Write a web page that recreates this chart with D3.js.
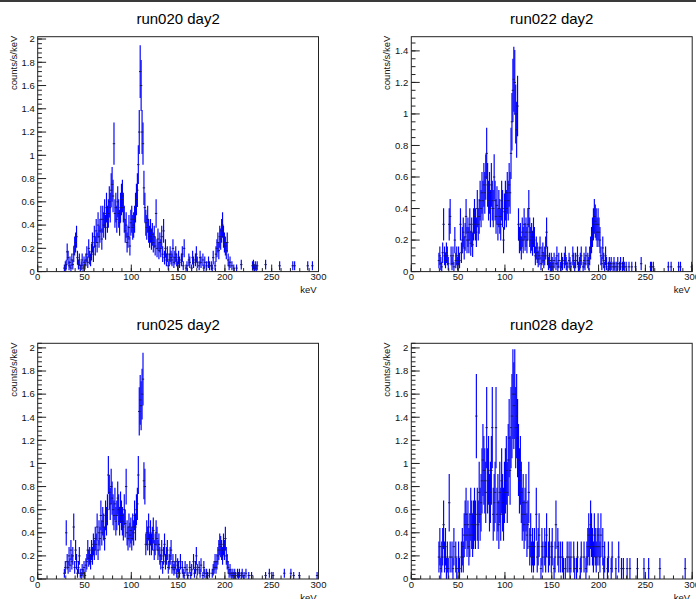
<!DOCTYPE html>
<html><head><meta charset="utf-8">
<script src="https://cdn.jsdelivr.net/npm/d3@7/dist/d3.min.js"></script>
<style>html,body{margin:0;padding:0;background:#fff;}svg{display:block;font-family:"Liberation Sans",Arial,Helvetica,sans-serif;}</style>
</head><body><svg id="c" width="696" height="599"></svg>
<script>
// ---------------- data ----------------
const titles = ["run020 day2", "run022 day2", "run025 day2", "run028 day2"];
const xTickValues = [0, 50, 100, 150, 200, 250, 300];
const binStart = 20;   // keV, lower edge of the first stored bin
const binWidth = 1;    // keV
// counts/s/keV per bin (0 = empty bin, not drawn); rows of 10 bins
const run020 = [
0,0,0,0,0,0,0,0,0.03,0.05,
0.06,0.17,0.12,0.05,0.08,0.03,0.1,0.06,0.15,0.22,
0.25,0.3,0.12,0.06,0.1,0.03,0.05,0.1,0.03,0.08,
0.06,0.1,0.15,0.08,0.2,0.12,0.1,0.17,0.25,0.15,
0.3,0.22,0.35,0.25,0.4,0.3,0.35,0.45,0.28,0.45,
0.4,0.5,0.38,0.55,0.45,0.5,0.6,0.55,0.7,0.75,
0.65,1.1,0.5,0.55,0.45,0.6,0.5,0.42,0.55,0.62,
0.65,0.55,0.45,0.35,0.4,0.25,0.3,0.38,0.22,0.42,
0.45,0.38,0.4,0.45,0.55,0.62,0.7,0.92,1.2,1.72,
1.6,1.2,1.1,0.72,0.55,0.42,0.38,0.45,0.35,0.3,
0.35,0.28,0.32,0.25,0.3,0.22,0.5,0.2,0.28,0.18,
0.25,0.2,0.3,0.15,0.35,0.12,0.2,0.1,0.15,0.05,
0.1,0.15,0.12,0.1,0.2,0.08,0.12,0.15,0.1,0.05,
0.12,0.08,0,0.1,0.15,0.05,0.2,0,0.03,0.05,
0,0.1,0.08,0,0.03,0.12,0.08,0,0.1,0.15,
0.08,0,0.05,0.12,0.08,0,0.1,0.03,0.08,0,
0.05,0,0.08,0.05,0,0.05,0.03,0.12,0,0.05,
0.15,0.2,0.25,0.18,0.3,0.28,0.35,0.4,0.3,0.25,
0.22,0.18,0.25,0.1,0.05,0.08,0,0.05,0,0.03,
0,0,0.03,0,0,0,0,0.06,0,0,
0,0,0,0,0,0,0,0,0,0.05,
0.06,0.03,0.05,0.03,0.05,0,0,0,0,0,
0,0,0,0.06,0,0,0,0,0,0,
0,0,0,0,0,0,0,0,0.05,0,
0,0,0,0,0,0,0,0,0,0,
0,0,0.05,0,0.05,0,0,0,0,0,
0,0,0,0,0,0,0,0,0.05,0,
0,0,0,0.05,0,0,0,0,0,0];
const run022 = [
0,0,0,0,0,0,0,0,0,0.07,
0.1,0.05,0.03,0.12,0.3,0.1,0.07,0.12,0.1,0.05,
0.3,0.35,0.1,0.05,0.1,0.03,0.2,0.07,0.1,0.05,
0.1,0.07,0.3,0.12,0.2,0.25,0.15,0.22,0.35,0.2,
0.25,0.2,0.3,0.18,0.25,0.17,0.3,0.35,0.3,0.25,
0.4,0.3,0.35,0.45,0.4,0.5,0.45,0.55,0.5,0.6,
0.75,0.55,0.45,0.5,0.4,0.55,0.45,0.4,0.6,0.45,
0.35,0.42,0.3,0.4,0.35,0.3,0.45,0.4,0.2,0.38,
0.45,0.4,0.5,0.45,0.55,0.5,0.75,0.95,1.15,1.22,
1.2,1.0,0.9,1.05,0.3,0.2,0.22,0.15,0.25,0.2,
0.3,0.22,0.25,0.2,0.3,0.4,0.25,0.2,0.22,0.18,
0.25,0.2,0.1,0.15,0.12,0.08,0.1,0.15,0.05,0.1,
0.12,0.07,0.1,0.15,0.25,0.1,0.05,0.07,0.03,0.07,
0.05,0.03,0.07,0,0.05,0.1,0.03,0.07,0,0.03,
0.07,0.05,0,0.07,0.1,0.05,0.03,0,0.07,0.05,
0.03,0,0.1,0.07,0.03,0.07,0,0.1,0.03,0.05,
0.07,0.1,0,0.03,0.07,0.05,0.1,0,0.07,0.05,
0.1,0.15,0.2,0.25,0.3,0.35,0.32,0.3,0.25,0.3,
0.25,0.2,0.1,0.05,0.15,0.07,0.03,0.1,0.05,0,
0.03,0.05,0.03,0.05,0,0.03,0.05,0.03,0,0.03,
0.05,0,0.03,0.05,0,0.03,0.05,0.03,0,0.03,
0,0,0.03,0,0,0.03,0,0,0,0.03,
0,0,0,0,0,0.05,0,0,0,0,
0,0,0,0,0,0.03,0.03,0,0.03,0,
0,0,0,0,0,0,0,0,0,0,
0,0,0,0,0.03,0,0,0.03,0,0,
0,0,0,0,0,0.03,0,0.03,0,0,
0,0,0,0,0,0,0,0,0,0.03];
const run025 = [
0,0,0,0,0,0,0,0,0.05,0.1,
0.4,0.15,0.1,0.2,0.12,0.25,0.15,0.2,0.45,0.1,
0.25,0.15,0.05,0.1,0.2,0.05,0.03,0.08,0.05,0.1,
0.03,0.12,0.15,0.25,0.18,0.2,0.15,0.25,0.2,0.3,
0.25,0.35,0.3,0.45,0.25,0.4,0.35,0.55,0.4,0.5,
0.45,0.35,0.55,0.5,0.6,0.9,0.75,0.65,0.8,0.7,
0.6,0.55,0.65,0.5,0.55,0.7,0.6,0.5,0.62,0.55,
0.5,0.45,0.6,0.48,0.8,0.4,0.35,0.45,0.38,0.42,
0.35,0.45,0.4,0.55,0.45,0.6,0.65,0.9,1.45,1.55,
1.5,1.6,1.73,0.85,0.8,0.3,0.4,0.35,0.45,0.3,
0.4,0.3,0.35,0.42,0.25,0.3,0.4,0.35,0.25,0.3,
0.2,0.15,0.25,0.1,0.2,0.3,0.15,0.2,0.25,0.1,
0.15,0.2,0.25,0.1,0.15,0.08,0.1,0.15,0.05,0.12,
0.1,0.05,0.15,0,0.1,0.05,0.03,0.1,0,0.08,
0.03,0,0.1,0.03,0.08,0,0.15,0.05,0.1,0.2,
0.08,0,0.1,0.05,0.12,0,0.03,0.1,0.05,0,
0.05,0.03,0,0.05,0,0,0.05,0.08,0.1,0.15,
0.1,0.15,0.2,0.25,0.3,0.28,0.25,0.2,0.3,0.25,
0.35,0.2,0.15,0.1,0.05,0.08,0.05,0.03,0.05,0.03,
0.05,0.03,0,0.05,0.03,0.05,0,0.03,0.05,0,
0.03,0,0.05,0,0,0.03,0,0,0.03,0,
0,0,0,0,0,0,0,0,0,0,
0,0,0,0.03,0,0,0,0.05,0,0,
0,0.03,0,0,0,0,0,0,0,0,
0,0,0,0.05,0,0,0,0,0,0,
0.05,0,0,0.03,0,0,0,0,0,0.03,
0,0,0,0,0,0,0,0,0,0,
0,0,0,0,0,0,0,0,0.03,0];
const run028 = [
0,0,0,0,0,0,0,0,0,0.19,
0.28,0.09,0.19,0.28,0.47,0.19,0.28,0.09,0.19,0.09,
0.66,0.19,0,0.19,0.09,0.28,0,0.19,0.09,0,
0.19,0.09,0,0.19,0.28,0.19,0.38,0.47,0.56,0.38,
0.47,0.28,0.38,0.56,0.47,0.38,0.47,0.56,0.47,1.41,
0.56,0.47,0.75,0.56,0.66,0.85,1.03,0.94,0.85,0.75,
1.31,0.85,0.94,0.66,0.75,0.94,1.31,0.56,0.66,0.75,
1.31,0.56,0.66,0.47,0.75,0.56,0.85,0.66,0.56,0.75,
0.85,0.94,0.75,1.03,1.22,0.94,1.31,1.41,1.6,1.5,
1.6,1.31,1.41,1.22,1.03,0.85,0.94,0.75,0.56,0.66,
0.47,0.56,0.66,0.38,0.47,0.75,0.28,0.38,0.19,0.28,
0.19,0.28,0,0.56,0.19,0.28,0.38,0,0.09,0.28,
0.19,0,0.28,0.19,0.38,0,0.19,0.28,0,0.19,
0.28,0,0.09,0.19,0.47,0,0.28,0.19,0,0.19,
0,0.19,0.09,0,0.09,0,0.19,0,0.19,0.09,
0.19,0,0,0.19,0.09,0,0.09,0.19,0,0,
0.09,0.19,0,0,0.19,0,0.09,0.19,0.28,0.38,
0.28,0.47,0.38,0.28,0.19,0.38,0.28,0.19,0.28,0.38,
0.28,0.19,0.38,0,0.28,0.09,0.19,0,0,0.09,
0.19,0,0,0.09,0.19,0,0,0,0.09,0,
0,0.19,0,0,0.09,0,0.09,0,0,0,
0.09,0,0,0.09,0,0,0,0,0,0,
0,0.09,0,0,0,0,0,0,0.09,0,
0,0,0,0.09,0,0,0,0,0,0,
0,0,0,0,0,0.09,0,0,0,0,
0,0,0,0,0,0,0,0,0,0,
0,0,0,0,0,0,0,0,0,0,
0,0,0.09,0,0,0,0,0,0,0];
const series = [run020, run022, run025, run028];
// counts/s/keV corresponding to one count (for Poisson error bars)
const countUnit = [0.03, 0.035, 0.03, 0.094];
const yMax = [2.02, 1.49, 2.04, 2.04];
const yMinorStep = [0.04, 0.05, 0.04, 0.04];

// ---------------- layout ----------------
const frames = [
  {x0: 37.7, x1: 318.5, y0: 36.7, y1: 271.6},
  {x0: 411.3, x1: 692.2, y0: 36.7, y1: 271.6},
  {x0: 37.7, x1: 318.5, y0: 343.3, y1: 579},
  {x0: 411.3, x1: 692.2, y0: 343.3, y1: 579}
];
const svg = d3.select("#c");
svg.append("rect").attr("x",0).attr("y",0).attr("width",696).attr("height",599).attr("fill","#fff");
svg.append("rect").attr("x",0).attr("y",0).attr("width",696).attr("height",2).attr("fill","#3a3a3a");

const fmtY = v => String(+v.toFixed(2));

frames.forEach((f, p) => {
  const g = svg.append("g");
  const x = d3.scaleLinear().domain([0, 300]).range([f.x0, f.x1]);
  const y = d3.scaleLinear().domain([0, yMax[p]]).range([f.y1, f.y0]);

  // title
  g.append("text").attr("x", (f.x0 + f.x1) / 2).attr("y", f.y0 - 13)
    .attr("text-anchor", "middle").attr("font-size", 15).attr("fill", "#000")
    .text(titles[p]);

  // data (error bars)
  const clipId = "clip" + p;
  g.append("clipPath").attr("id", clipId).append("rect")
    .attr("x", f.x0).attr("y", f.y0).attr("width", f.x1 - f.x0).attr("height", f.y1 - f.y0);
  const bins = series[p].map((v, i) => ({lo: binStart + i * binWidth, v: v}))
    .filter(d => d.v > 0)
    .map(d => Object.assign(d, {e: Math.sqrt(d.v * countUnit[p])}));
  const dg = g.append("g").attr("clip-path", `url(#${clipId})`);
  dg.selectAll("line.eb").data(bins).join("line").attr("class", "eb")
    .attr("x1", d => x(d.lo + binWidth / 2)).attr("x2", d => x(d.lo + binWidth / 2))
    .attr("y1", d => y(Math.max(0, d.v - d.e))).attr("y2", d => y(d.v + d.e))
    .attr("stroke", "#0000ff").attr("stroke-width", 1.15);
  dg.selectAll("line.hb").data(bins).join("line").attr("class", "hb")
    .attr("x1", d => x(d.lo + binWidth / 2) - 1.2).attr("x2", d => x(d.lo + binWidth / 2) + 1.2)
    .attr("y1", d => y(d.v)).attr("y2", d => y(d.v))
    .attr("stroke", "#18186a").attr("stroke-width", 1);

  // frame
  g.append("rect").attr("x", f.x0).attr("y", f.y0)
    .attr("width", f.x1 - f.x0).attr("height", f.y1 - f.y0)
    .attr("fill", "none").attr("stroke", "#222").attr("stroke-width", 1);

  // y axis ticks
  const yMajors = d3.range(0, yMax[p] + 1e-9, 0.2).filter(v => v <= yMax[p] + 1e-9);
  const yMinors = d3.range(0, yMax[p] + 1e-9, yMinorStep[p]);
  const majLenY = 0.03 * (f.x1 - f.x0), minLenY = majLenY / 2;
  g.selectAll("line.ymin").data(yMinors).join("line").attr("class", "ymin")
    .attr("x1", f.x0).attr("x2", f.x0 + minLenY).attr("y1", d => y(d)).attr("y2", d => y(d))
    .attr("stroke", "#222").attr("stroke-width", 1);
  g.selectAll("line.ymaj").data(yMajors).join("line").attr("class", "ymaj")
    .attr("x1", f.x0).attr("x2", f.x0 + majLenY).attr("y1", d => y(d)).attr("y2", d => y(d))
    .attr("stroke", "#222").attr("stroke-width", 1);
  g.selectAll("text.ylab").data(yMajors).join("text").attr("class", "ylab")
    .attr("x", f.x0 - 3).attr("y", d => y(d)).attr("dy", "0.35em")
    .attr("text-anchor", "end").attr("font-size", 9.5).attr("fill", "#111")
    .text(d => fmtY(d));

  // x axis ticks
  const xMinors = d3.range(0, 301, 10);
  const majLenX = 0.03 * (f.y1 - f.y0), minLenX = majLenX / 2;
  g.selectAll("line.xmin").data(xMinors).join("line").attr("class", "xmin")
    .attr("x1", d => x(d)).attr("x2", d => x(d)).attr("y1", f.y1).attr("y2", f.y1 - minLenX)
    .attr("stroke", "#222").attr("stroke-width", 1);
  g.selectAll("line.xmaj").data(xTickValues).join("line").attr("class", "xmaj")
    .attr("x1", d => x(d)).attr("x2", d => x(d)).attr("y1", f.y1).attr("y2", f.y1 - majLenX)
    .attr("stroke", "#222").attr("stroke-width", 1);
  g.selectAll("text.xlab").data(xTickValues).join("text").attr("class", "xlab")
    .attr("x", d => x(d)).attr("y", f.y1 + 8.8)
    .attr("text-anchor", "middle").attr("font-size", 9.5).attr("fill", "#111")
    .text(d => String(d));

  // axis titles
  g.append("text").attr("transform", `translate(${f.x0 - 21},${f.y0 - 1}) rotate(-90)`)
    .attr("text-anchor", "end").attr("font-size", 9.5).attr("fill", "#111")
    .text("counts/s/keV");
  g.append("text").attr("x", f.x1 - 2).attr("y", f.y1 + 21.5)
    .attr("text-anchor", "end").attr("font-size", 9.5).attr("fill", "#111")
    .text("keV");
});
</script>
</body></html>
